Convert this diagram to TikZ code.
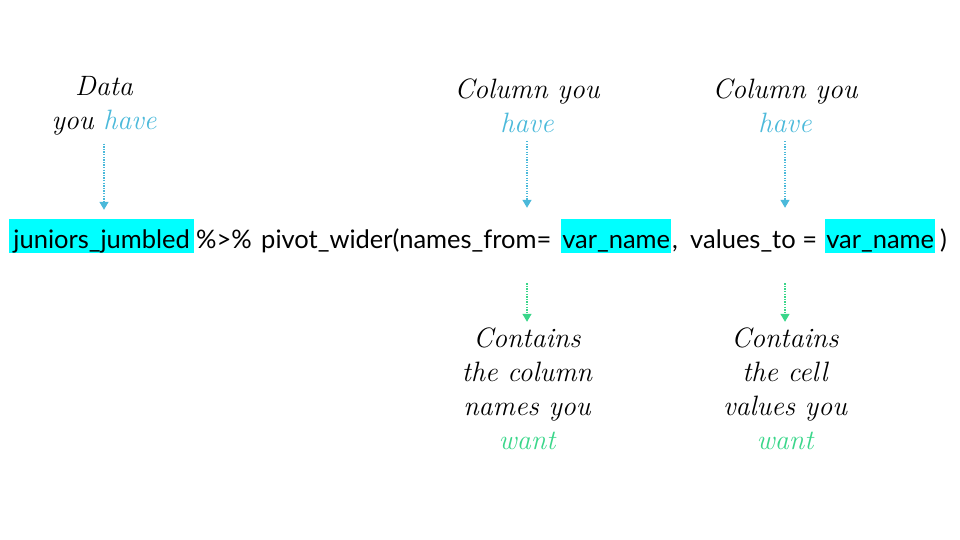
\documentclass[tikz,border=0pt]{standalone}
\usepackage{fontspec}
\newfontfamily\codefont{Lato}
\usetikzlibrary{positioning}
\usetikzlibrary{arrows.meta}
\definecolor{hlcyan}{RGB}{0, 255, 255}
\definecolor{have}{RGB}{75, 185, 218}
\definecolor{want}{RGB}{58, 214, 138}

\begin{document}
\begin{tikzpicture}[x=1pt, y=-1pt,
  every node/.style={inner sep=0pt},
  code/.style={anchor=base west, font=\codefont\fontsize{25.5}{30}\selectfont},
  hl/.style={code, fill=hlcyan, text height=29pt, text depth=5pt},
  hand/.style={align=center, font=\itshape\fontsize{28}{34}\selectfont},
  notearrow/.style={line width=1.3pt, dash pattern=on 1.3pt off 1.3pt, -{Triangle[width=9pt, length=8pt]}}]
\useasboundingbox (0,0) rectangle (960,540);
% the call
\node[hl, minimum width=185pt] (data) at (9,248) {juniors\_jumbled};
\node[code] (pipeop) at (196,248) {\%>\%};
\node[code] (call) at (261,248) {pivot\_wider(names\_from=};
\node[hl, minimum width=110pt] (namesvar) at (561,248) {var\_name};
\node[code] (comma) at (672,248) {,};
\node[code] (valuesarg) at (690,248) {values\_to =};
\node[hl, minimum width=110pt] (valuesvar) at (825,248) {var\_name};
\node[code] (close) at (940,248) {)};
% notes above
\node[hand] (datanote) at (104,106) {Data\\you \textcolor{have}{have}};
\node[hand] (namesnote) at (527,106) {Column you\\\textcolor{have}{have}};
\node[hand] (valuesnote) at (785,106) {Column you\\\textcolor{have}{have}};
% notes below
\node[hand] (namesout) at (527,389) {Contains\\the column\\names you\\\textcolor{want}{want}};
\node[hand] (valuesout) at (785,389) {Contains\\the cell\\values you\\\textcolor{want}{want}};
% arrows
\draw[notearrow, have, shorten <=8pt, shorten >=9pt] (datanote.south) -- (datanote.south |- data.north);
\draw[notearrow, have, shorten <=8pt, shorten >=11pt] (namesnote.south) -- (namesnote.south |- namesvar.north);
\draw[notearrow, have, shorten <=8pt, shorten >=11pt] (valuesnote.south) -- (valuesnote.south |- valuesvar.north);
\draw[notearrow, want, shorten <=30pt, shorten >=6pt] (namesout.north |- namesvar.south) -- (namesout.north);
\draw[notearrow, want, shorten <=30pt, shorten >=6pt] (valuesout.north |- valuesvar.south) -- (valuesout.north);
\end{tikzpicture}
\end{document}
